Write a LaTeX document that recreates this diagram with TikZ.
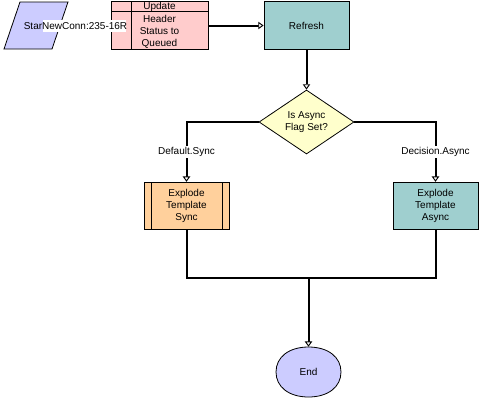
\documentclass[tikz,border=0pt]{standalone}
\usepackage{fontspec}
\setmainfont{Liberation Sans}
\usetikzlibrary{arrows.meta,shapes.geometric}
\definecolor{cblue}{HTML}{CCCCFF}
\definecolor{cpink}{HTML}{FFCCCC}
\definecolor{cteal}{HTML}{9FCFCF}
\definecolor{cyel}{HTML}{FFFFCC}
\definecolor{corange}{HTML}{FFD09C}
\tikzset{
  txt/.style={font=\fontsize{7.5pt}{9.2pt}\selectfont, align=center, inner sep=0pt},
  box/.style={draw=black, line width=0.6pt, rectangle, inner sep=0pt, minimum width=63.75pt, minimum height=35.7pt, txt},
  conn/.style={line width=1.5pt, draw=black},
  arr/.style={conn, -{Triangle[width=5.5pt,length=4pt,fill=white,line width=0.7pt]}},
  lbl/.style={txt, fill=white, inner sep=1pt}
}
\begin{document}
\begin{tikzpicture}[x=0.75pt,y=-0.75pt]
\useasboundingbox (0,0) rectangle (482,400);
% start parallelogram
\draw[fill=cblue, line width=0.6pt] (20,2) -- (68,2) -- (52,49) -- (4,49) -- cycle;
% update box
\node[box, fill=cpink, minimum width=72.75pt] (upd) at (159.5,25.5) {};
\draw[line width=0.6pt] (131,2) -- (131,49);
\draw[line width=0.6pt] (111,11) -- (208,11);
\begin{scope}
\clip (upd.north west) rectangle (upd.south east);
\node[txt] (updtxt) at (159.5,25.5) {Update\\Header\\Status to\\Queued};
\end{scope}
% start label
\fill[white] (43,20) rectangle (126,32);
\node[txt] (start) at (75.5,26) {StarNewConn:235-16R};
% refresh
\node[box, fill=cteal] (ref) at (306.5,25.5) {Refresh};
% diamond
\node[draw=black, line width=0.6pt, diamond, fill=cyel, txt, minimum width=71.25pt, minimum height=36pt] (dia) at (306.5,122) {Is Async\\Flag Set?};
% explode boxes
\node[box, fill=corange] (sync) at (186.5,206) {Explode\\Template\\Sync};
\draw[line width=0.6pt] (151,182) -- (151,230);
\draw[line width=0.6pt] (222,182) -- (222,230);
\node[box, fill=cteal] (async) at (435.5,206) {Explode\\Template\\Async};
% end
\node[txt, minimum width=48pt, minimum height=37.5pt] (end) at (308.5,372) {};
\draw[fill=cblue, line width=0.6pt] (308.5,347) .. controls (328,347) and (341,357) .. (341,372)
  .. controls (341,387) and (328,397) .. (308.5,397)
  .. controls (289,397) and (276,387) .. (276,372)
  .. controls (276,357) and (289,347) .. (308.5,347) -- cycle;
\node[txt] (endtxt) at (end.center) {End};
% connectors
\draw[arr] (upd.east) -- (ref.west);
\draw[arr] (ref.south) -- (dia.north);
\draw[arr] (dia.west) -| (sync.north) node[lbl, pos=0.75] (l1) {Default.Sync};
\draw[arr] (dia.east) -| (async.north) node[lbl, pos=0.75] (l2) {Decision.Async};
\coordinate (join) at (308.5,278);
\draw[conn] (sync.south) |- (join);
\draw[conn] (async.south) |- (join);
\draw[arr] (join) -- (end.north);
\end{tikzpicture}
\end{document}
